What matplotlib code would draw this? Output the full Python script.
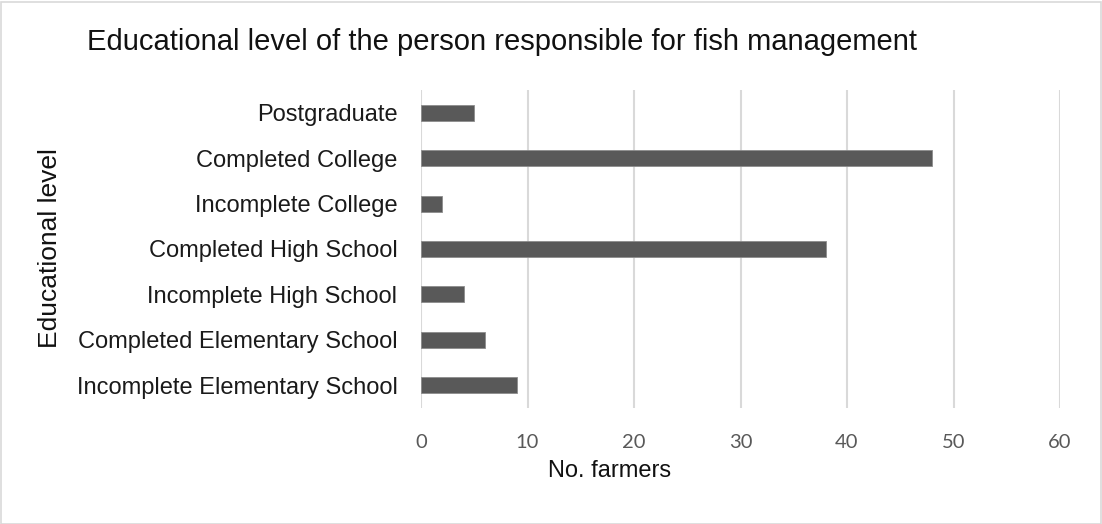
import matplotlib
matplotlib.use("Agg")
import matplotlib.pyplot as plt
from matplotlib.patches import Rectangle

# data
levels = ["Incomplete Elementary School", "Completed Elementary School",
          "Incomplete High School", "Completed High School",
          "Incomplete College", "Completed College", "Postgraduate"]
farmers = [9, 6, 4, 38, 2, 48, 5]
xticks = [0, 10, 20, 30, 40, 50, 60]

W, H = 1102, 524
fig = plt.figure(figsize=(W / 100, H / 100), dpi=100)
fig.patch.set_facecolor("white")

# thin light border round the whole chart
fig.patches.append(Rectangle((0.5 / W, 0.5 / H), 1 - 2 / W, 1 - 2 / H,
                             transform=fig.transFigure, fill=False,
                             edgecolor="#d9d9d9", linewidth=1.2))

ax = fig.add_axes([421 / W, 1 - 408 / H, (1060 - 421) / W, (408 - 90) / H])
ypos = list(range(len(levels)))
ax.barh(ypos, farmers, height=0.35, color="#595959",
        edgecolor="#8c8c8c", linewidth=0.6, zorder=3)

ax.set_xlim(0, 60)
ax.set_ylim(-0.5, len(levels) - 0.5)
ax.set_xticks(xticks)
ax.set_xticklabels([str(t) for t in xticks], fontfamily="Lato",
                   fontsize=14.5, color="#595959")
ax.set_yticks(ypos)
ax.set_yticklabels(levels, fontfamily="Liberation Sans", fontsize=17,
                   color="#1a1a1a")
ax.tick_params(axis="x", length=0, pad=19)
ax.tick_params(axis="y", length=0, pad=17)
ax.grid(axis="x", color="#d9d9d9", linewidth=1.5, zorder=0)
for s in ax.spines.values():
    s.set_visible(False)

fig.text(87 / W, 1 - 42 / H, "Educational level of the person responsible for fish management",
         fontfamily="Liberation Sans", fontsize=21, color="#111111",
         ha="left", va="center")
fig.text(610 / W, 1 - 471 / H, "No. farmers", fontfamily="Liberation Sans",
         fontsize=17, color="#111111", ha="center", va="center")
fig.text(50 / W, 1 - 248 / H, "Educational level", fontfamily="Liberation Sans",
         fontsize=19, color="#111111", ha="center", va="center", rotation=90)

fig.savefig("out.png", dpi=100, facecolor="white")
